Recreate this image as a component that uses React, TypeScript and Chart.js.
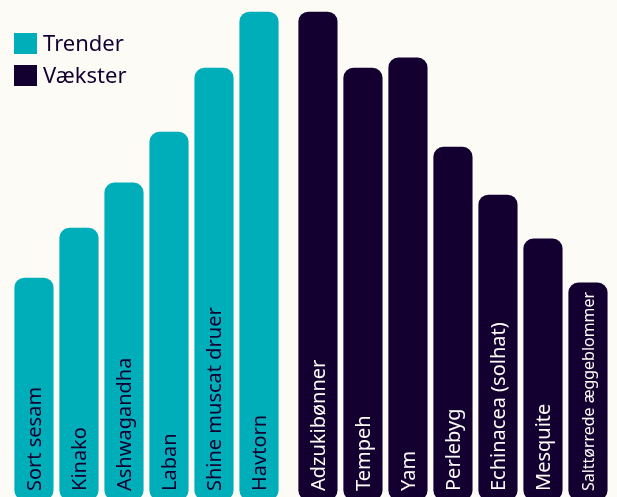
import React, { useEffect, useRef } from "react";
import { Chart, registerables } from "chart.js";

Chart.register(...registerables);

// ---- data ----
const seriesNames = ["Trender", "Vækster"];
const trendCategories = ["Sort sesam", "Kinako", "Ashwagandha", "Laban", "Shine muscat druer", "Havtorn"];
const trendValues = [45.5, 55.7, 65.0, 75.4, 88.5, 100];
const cropCategories = [
  "Adzukibønner",
  "Tempeh",
  "Yam",
  "Perlebyg",
  "Echinacea (solhat)",
  "Mesquite",
  "Salttørrede æggeblommer",
];
const cropValues = [100, 88.5, 90.6, 72.3, 62.5, 53.5, 44.5];

// ---- style ----
const BG = "#fcfbf5";
const TEAL = "#00aeb9";
const DARK = "#130030";
const LIGHT_TEXT = "#fcfbf5";
const FONT = "'Noto Sans', sans-serif";
const GROUP_GAP = 0.31; // extra gap between the two groups, in category units

const barLabelPlugin = {
  id: "barLabels",
  afterDatasetsDraw(chart: any) {
    const ctx = chart.ctx;
    chart.data.datasets.forEach((ds: any, di: number) => {
      const meta = chart.getDatasetMeta(di);
      const labels: string[] = ds.categoryLabels;
      meta.data.forEach((bar: any, i: number) => {
        const { x, y, base } = bar.getProps(["x", "y", "base"], true);
        const pad = 9;
        const avail = base - y - pad * 2;
        let fs = 20;
        ctx.save();
        ctx.font = `${fs}px ${FONT}`;
        const w = ctx.measureText(labels[i]).width;
        if (w > avail) {
          fs = (fs * avail) / w;
          ctx.font = `${fs}px ${FONT}`;
        }
        ctx.fillStyle = ds.labelColor;
        ctx.textAlign = "left";
        ctx.textBaseline = "alphabetic";
        ctx.translate(x, base - pad);
        ctx.rotate(-Math.PI / 2);
        ctx.fillText(labels[i], 0, fs * 0.36);
        ctx.restore();
      });
    });
  },
};

const legendPlugin = {
  id: "customLegend",
  afterDraw(chart: any) {
    const ctx = chart.ctx;
    ctx.save();
    chart.data.datasets.forEach((ds: any, i: number) => {
      const top = 33 + i * 32;
      ctx.fillStyle = ds.backgroundColor;
      ctx.fillRect(14, top, 23, 21);
      ctx.fillStyle = DARK;
      ctx.font = `22px ${FONT}`;
      ctx.textAlign = "left";
      ctx.textBaseline = "middle";
      ctx.fillText(ds.label, 43, top + 12);
    });
    ctx.restore();
  },
};

const bgPlugin = {
  id: "bg",
  beforeDraw(chart: any) {
    const ctx = chart.ctx;
    ctx.save();
    ctx.fillStyle = BG;
    ctx.fillRect(0, 0, chart.width, chart.height);
    ctx.restore();
  },
};

export default function App() {
  const ref = useRef<HTMLCanvasElement | null>(null);

  useEffect(() => {
    document.body.style.margin = "0";
    document.body.style.background = BG;
    if (!ref.current) return;
    const trendData = trendValues.map((v, i) => ({ x: i, y: v }));
    const cropData = cropValues.map((v, j) => ({ x: trendValues.length + GROUP_GAP + j, y: v }));
    const chart = new Chart(ref.current, {
      type: "bar",
      data: {
        datasets: [
          {
            label: seriesNames[0],
            data: trendData,
            backgroundColor: TEAL,
            categoryLabels: trendCategories,
            labelColor: DARK,
          } as any,
          {
            label: seriesNames[1],
            data: cropData,
            backgroundColor: DARK,
            categoryLabels: cropCategories,
            labelColor: LIGHT_TEXT,
          } as any,
        ],
      },
      options: {
        animation: false,
        responsive: false,
        events: [],
        layout: { padding: 0 },
        datasets: {
          bar: {
            grouped: false,
            barThickness: 38.5,
            borderRadius: 10,
            borderSkipped: false,
          },
        },
        scales: {
          x: { type: "linear", offset: false, min: -0.755, max: 12.955, display: false },
          y: { min: 0.615, max: 102.46, display: false },
        },
        plugins: {
          legend: { display: false },
          tooltip: { enabled: false },
        },
      } as any,
      plugins: [bgPlugin, barLabelPlugin, legendPlugin],
    });
    return () => chart.destroy();
  }, []);

  return (
    <div style={{ position: "fixed", left: 0, top: 0, width: 617, height: 497, background: BG }}>
      <canvas ref={ref} width={617} height={497} style={{ display: "block" }} />
    </div>
  );
}
